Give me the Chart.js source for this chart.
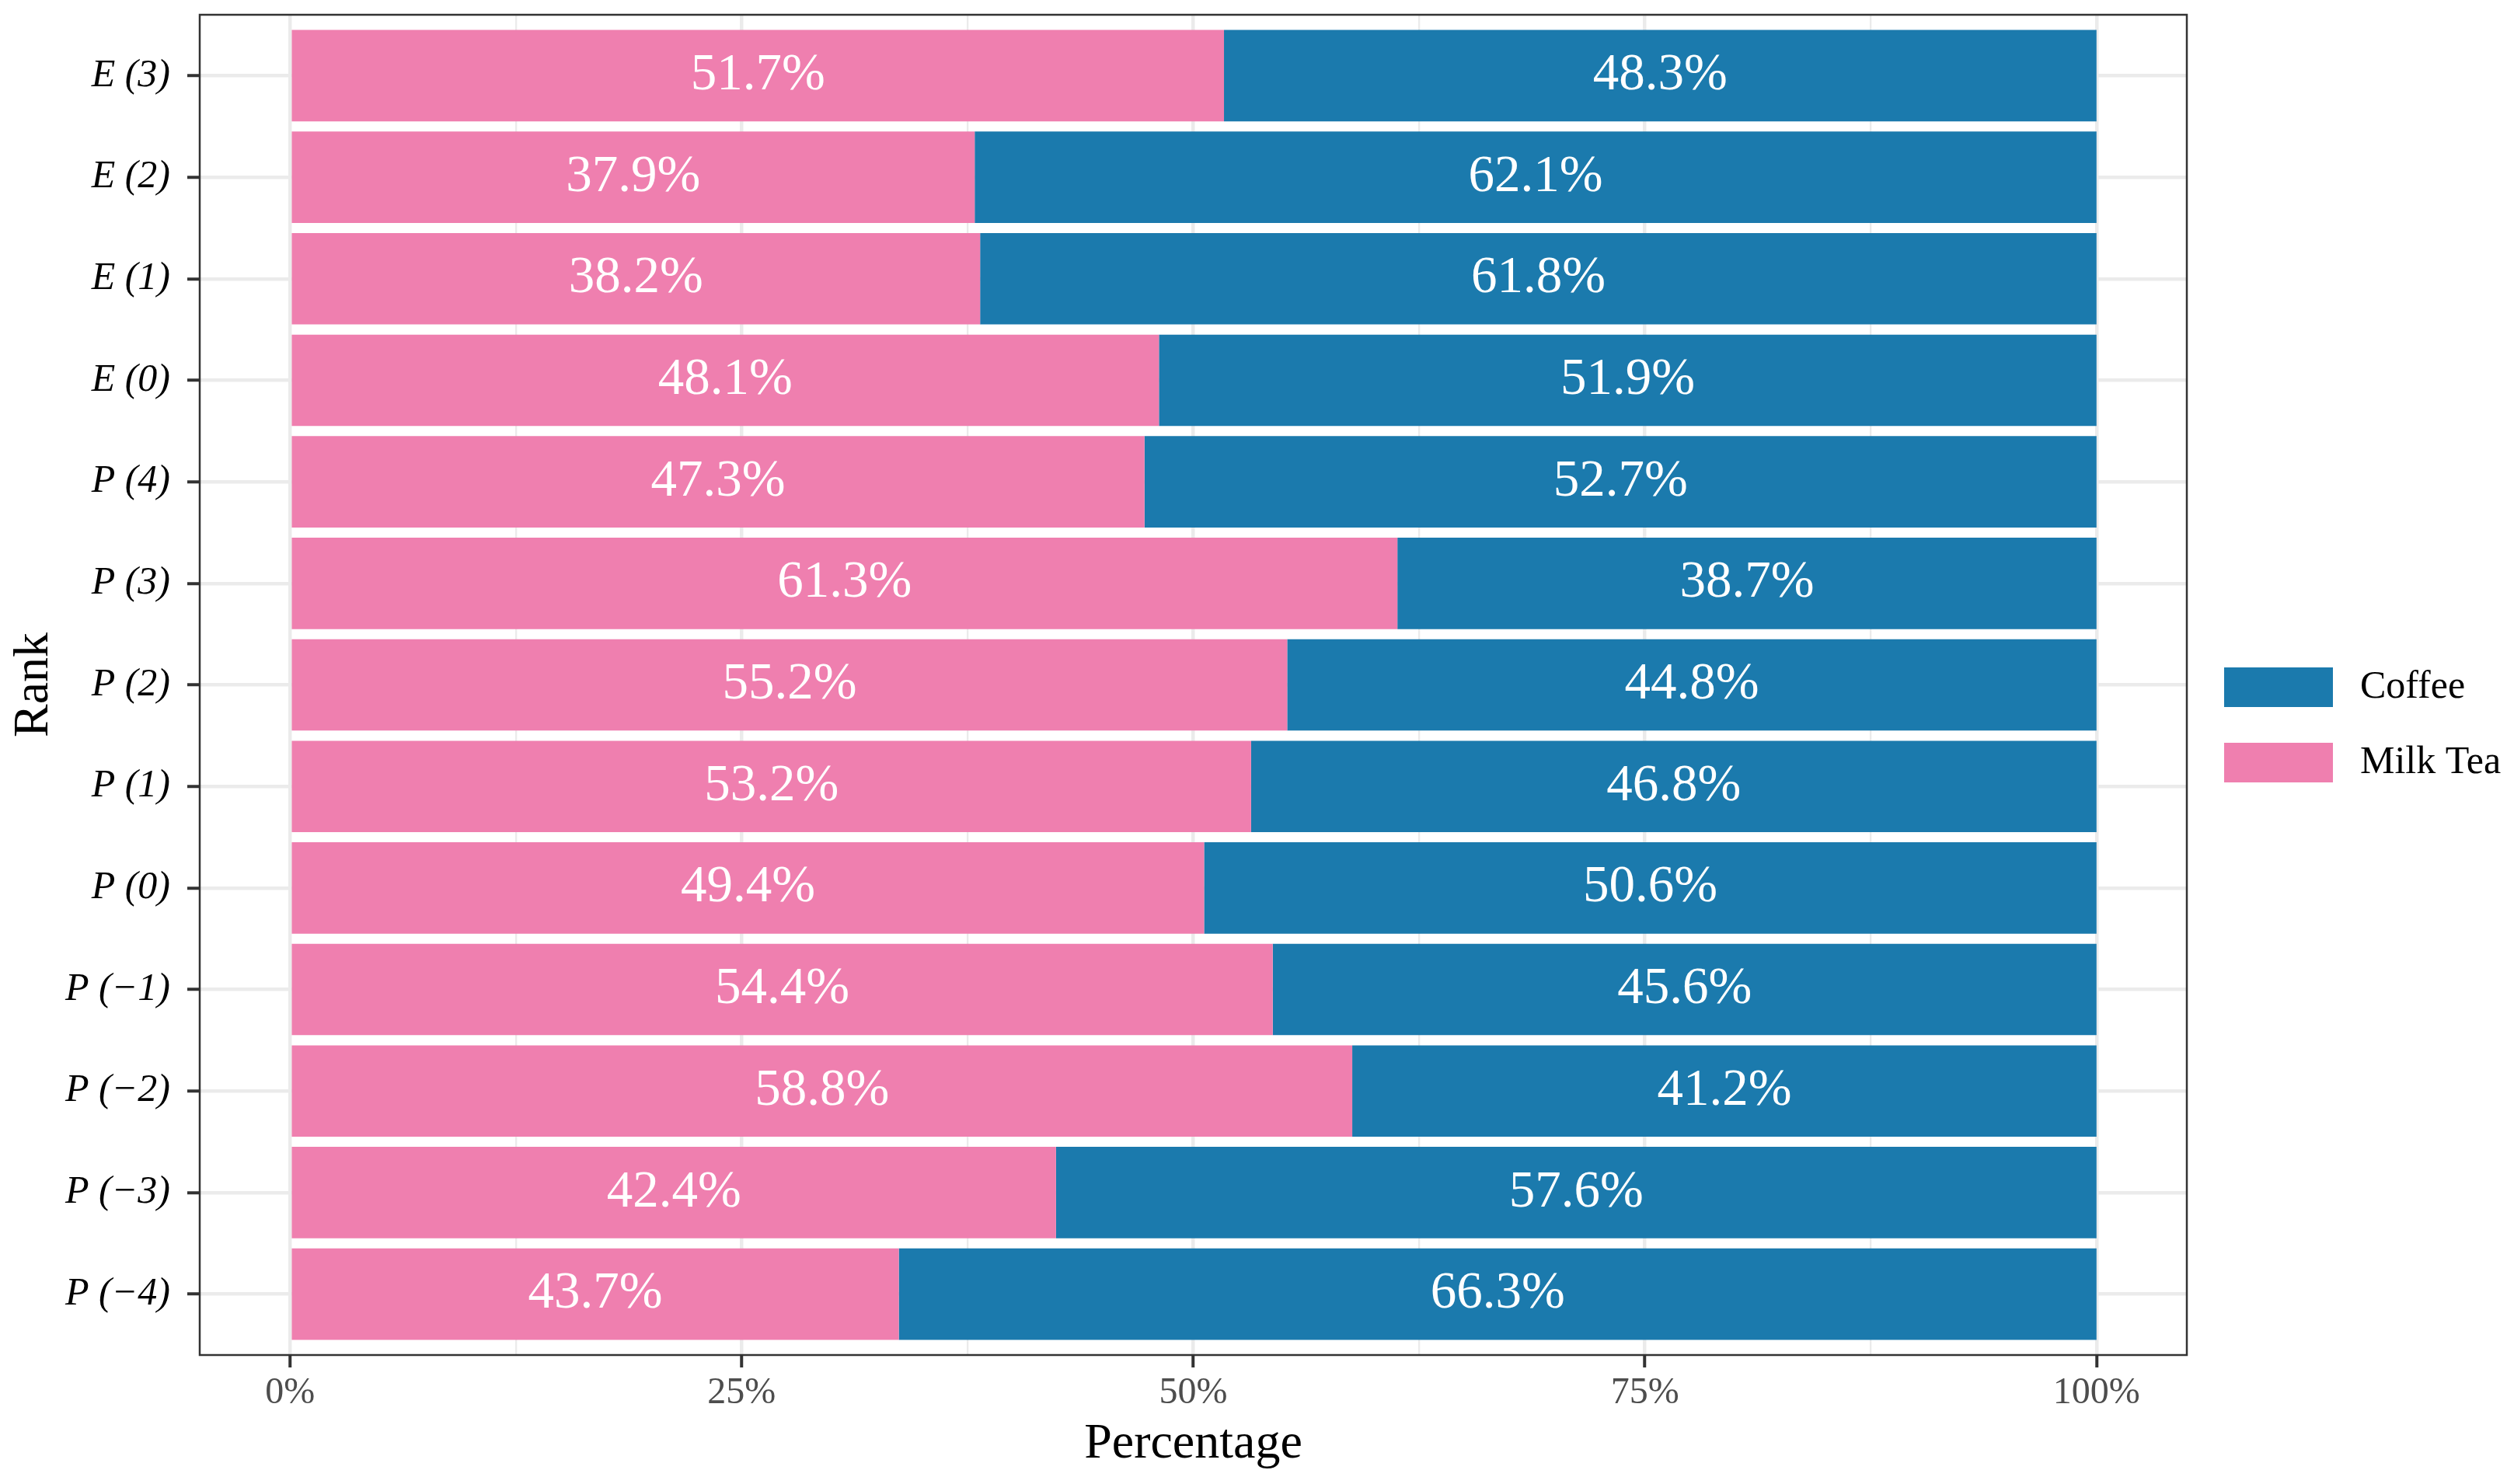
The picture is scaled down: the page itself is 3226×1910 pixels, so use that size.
<!DOCTYPE html>
<html>
<head>
<meta charset="utf-8">
<script src="https://cdn.jsdelivr.net/npm/chart.js@4.4.1/dist/chart.umd.min.js"></script>
<style>
  html, body { margin: 0; padding: 0; background: #fff; }
  canvas { display: block; }
</style>
</head>
<body>
<canvas id="rankChart" width="3226" height="1910" style="width:3226px;height:1910px"></canvas>
<script>
// categories, top to bottom
const ranks = ['E (3)', 'E (2)', 'E (1)', 'E (0)', 'P (4)', 'P (3)', 'P (2)', 'P (1)', 'P (0)', 'P (\u22121)', 'P (\u22122)', 'P (\u22123)', 'P (\u22124)'];

// bar lengths as drawn (percent)
const milkTea = [51.7, 37.9, 38.2, 48.1, 47.3, 61.3, 55.2, 53.2, 50.6, 54.4, 58.8, 42.4, 33.7];
const coffee  = [48.3, 62.1, 61.8, 51.9, 52.7, 38.7, 44.8, 46.8, 49.4, 45.6, 41.2, 57.6, 66.3];

// printed labels inside the bars
const milkTeaText = ['51.7%', '37.9%', '38.2%', '48.1%', '47.3%', '61.3%', '55.2%', '53.2%', '49.4%', '54.4%', '58.8%', '42.4%', '43.7%'];
const coffeeText  = ['48.3%', '62.1%', '61.8%', '51.9%', '52.7%', '38.7%', '44.8%', '46.8%', '50.6%', '45.6%', '41.2%', '57.6%', '66.3%'];

const xMajorTicks = [0, 25, 50, 75, 100];
const xMinorTicks = [12.5, 37.5, 62.5, 87.5];

const serif = '"Liberation Serif", "Times New Roman", serif';
const pink = '#EF7FAF';
const blue = '#1B7AAD';

const barLabels = {
    id: 'barLabels',
    afterDatasetsDraw(chart) {
        const ctx = chart.ctx;
        const texts = [milkTeaText, coffeeText];
        ctx.save();
        ctx.fillStyle = '#ffffff';
        ctx.font = '67px ' + serif;
        ctx.textAlign = 'center';
        ctx.textBaseline = 'middle';
        chart.data.datasets.forEach(function (ds, di) {
            chart.getDatasetMeta(di).data.forEach(function (bar, i) {
                ctx.fillText(texts[di][i], (bar.x + bar.base) / 2, bar.y);
            });
        });
        ctx.restore();
    }
};

const panelAndLegend = {
    id: 'panelAndLegend',
    afterDraw(chart) {
        const ctx = chart.ctx;
        const a = chart.chartArea;
        ctx.save();
        ctx.strokeStyle = '#333333';
        ctx.lineWidth = 2.5;
        ctx.strokeRect(a.left, a.top, a.right - a.left, a.bottom - a.top);

        // legend: Coffee on top, Milk Tea below
        const items = chart.data.datasets.slice().reverse();
        const keyX = a.right + 48;
        let keyY = 859;
        ctx.font = '50px ' + serif;
        ctx.textBaseline = 'middle';
        ctx.textAlign = 'left';
        items.forEach(function (ds) {
            ctx.fillStyle = ds.backgroundColor;
            ctx.fillRect(keyX, keyY, 140, 51);
            ctx.fillStyle = '#000000';
            ctx.fillText(ds.label, keyX + 175, keyY + 26);
            keyY += 97;
        });
        ctx.restore();
    }
};

const ctx = document.getElementById('rankChart').getContext('2d');
const rankChart = new Chart(ctx, {
    type: 'bar',
    data: {
        datasets: [{
            label: 'Milk Tea',
            data: milkTea.map(function (v, i) { return { x: v, y: i }; }),
            backgroundColor: pink,
            borderWidth: 0
        }, {
            label: 'Coffee',
            data: coffee.map(function (v, i) { return { x: v, y: i }; }),
            backgroundColor: blue,
            borderWidth: 0
        }]
    },
    options: {
        indexAxis: 'y',
        responsive: false,
        devicePixelRatio: 1,
        animation: false,
        barPercentage: 0.9,
        categoryPercentage: 1,
        layout: { padding: { left: 0, right: 412, top: 19, bottom: 0 } },
        plugins: {
            legend: { display: false },
            tooltip: { enabled: false }
        },
        scales: {
            x: {
                type: 'linear',
                stacked: true,
                min: -5,
                max: 105,
                offset: false,
                afterBuildTicks: function (scale) {
                    scale.ticks = xMajorTicks.concat(xMinorTicks).sort(function (a, b) { return a - b; })
                        .map(function (v) { return { value: v }; });
                },
                afterFit: function (scale) {
                    scale.height = 166;
                    scale.paddingLeft = 0;
                    scale.paddingRight = 0;
                },
                border: { display: false },
                grid: {
                    offset: false,
                    color: '#EBEBEB',
                    lineWidth: function (c) { return xMajorTicks.includes(c.tick.value) ? 4.5 : 2.3; },
                    tickLength: 16,
                    tickWidth: 4,
                    tickColor: function (c) { return xMajorTicks.includes(c.tick.value) ? '#333333' : 'rgba(0,0,0,0)'; }
                },
                ticks: {
                    autoSkip: false,
                    maxRotation: 0,
                    padding: 5,
                    color: '#4D4D4D',
                    font: { family: serif, size: 48 },
                    callback: function (v) { return xMajorTicks.includes(v) ? v + '%' : ''; }
                },
                title: {
                    display: true,
                    text: 'Percentage',
                    color: '#000000',
                    font: { family: serif, size: 64 },
                    padding: { top: 0, bottom: 12 }
                }
            },
            y: {
                type: 'linear',
                stacked: true,
                reverse: true,
                min: -0.6,
                max: 12.6,
                offset: false,
                afterBuildTicks: function (scale) {
                    scale.ticks = ranks.map(function (r, i) { return { value: i }; });
                },
                afterFit: function (scale) {
                    scale.width = 257;
                    scale.paddingTop = 0;
                    scale.paddingBottom = 0;
                },
                border: { display: false },
                grid: {
                    offset: false,
                    color: '#EBEBEB',
                    lineWidth: 4.5,
                    tickLength: 16,
                    tickWidth: 4,
                    tickColor: '#333333'
                },
                ticks: {
                    autoSkip: false,
                    padding: 22,
                    color: '#000000',
                    font: { family: serif, size: 50, style: 'italic' },
                    callback: function (v) { return ranks[v]; }
                },
                title: {
                    display: true,
                    text: 'Rank',
                    color: '#000000',
                    font: { family: serif, size: 64 },
                    padding: { top: 6, bottom: 0 }
                }
            }
        }
    },
    plugins: [barLabels, panelAndLegend]
});
</script>
</body>
</html>
